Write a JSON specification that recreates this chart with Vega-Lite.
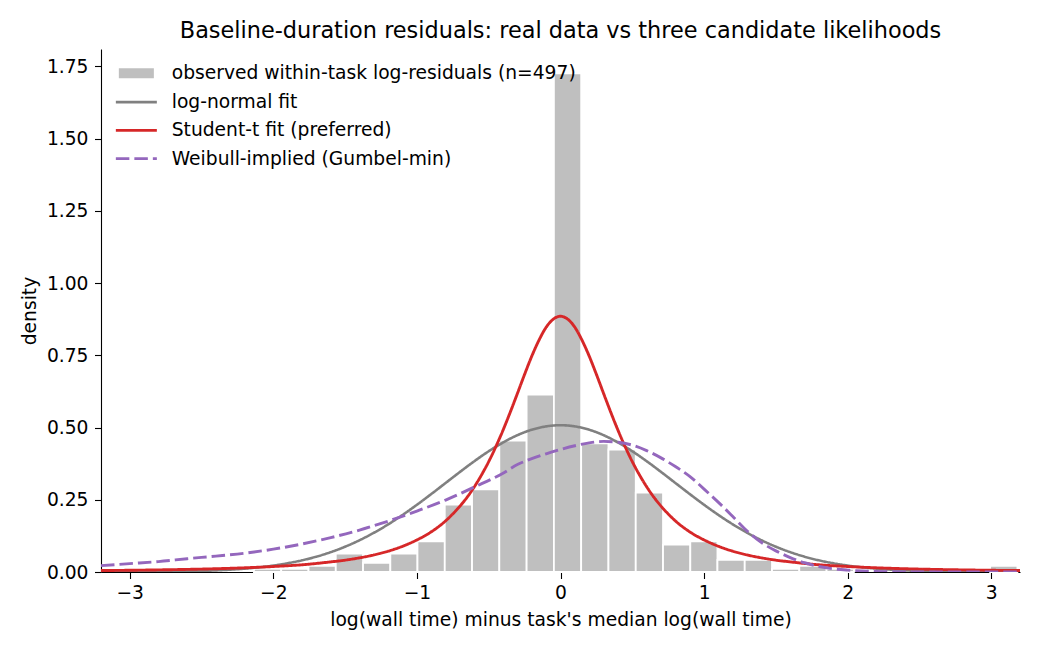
{
  "$schema": "https://vega.github.io/schema/vega-lite/v6.json",
  "autosize": {"type": "none"},
  "padding": {"left": 101, "top": 49, "right": 20, "bottom": 78},
  "width": 919,
  "height": 523,
  "title": {
    "text": "Baseline-duration residuals: real data vs three candidate likelihoods",
    "font": "DejaVu Sans",
    "fontSize": 22.4,
    "fontWeight": "normal",
    "color": "black",
    "anchor": "middle",
    "baseline": "alphabetic",
    "offset": 0,
    "dy": 11.5
  },
  "config": {
    "font": "DejaVu Sans",
    "view": {"stroke": null},
    "axis": {
      "grid": false,
      "domainColor": "black",
      "domainWidth": 1.1,
      "tickColor": "black",
      "tickWidth": 1.1,
      "tickSize": 6.5,
      "labelFont": "DejaVu Sans",
      "labelFontSize": 18.7,
      "labelColor": "black",
      "titleFont": "DejaVu Sans",
      "titleFontSize": 18.7,
      "titleFontWeight": "normal",
      "titleColor": "black"
    },
    "legend": {
      "title": null,
      "orient": "none",
      "legendX": 5.5,
      "padding": 0,
      "symbolSize": 16,
      "symbolOffset": 0,
      "labelFont": "DejaVu Sans",
      "labelFontSize": 18.7,
      "labelColor": "black",
      "labelLimit": 0,
      "labelOffset": 46.5,
      "rowPadding": 8.3
    }
  },
  "datasets": {
    "hist": [
      {"x0": -2.135, "x1": -1.945, "density": 0.011},
      {"x0": -1.945, "x1": -1.755, "density": 0.011},
      {"x0": -1.755, "x1": -1.565, "density": 0.021},
      {"x0": -1.565, "x1": -1.375, "density": 0.064},
      {"x0": -1.375, "x1": -1.185, "density": 0.032},
      {"x0": -1.185, "x1": -0.996, "density": 0.064},
      {"x0": -0.996, "x1": -0.806, "density": 0.106},
      {"x0": -0.806, "x1": -0.616, "density": 0.233},
      {"x0": -0.616, "x1": -0.426, "density": 0.286},
      {"x0": -0.426, "x1": -0.236, "density": 0.455},
      {"x0": -0.236, "x1": -0.046, "density": 0.614},
      {"x0": -0.046, "x1": 0.144, "density": 1.726},
      {"x0": 0.144, "x1": 0.334, "density": 0.445},
      {"x0": 0.334, "x1": 0.524, "density": 0.424},
      {"x0": 0.524, "x1": 0.714, "density": 0.275},
      {"x0": 0.714, "x1": 0.904, "density": 0.095},
      {"x0": 0.904, "x1": 1.093, "density": 0.106},
      {"x0": 1.093, "x1": 1.283, "density": 0.042},
      {"x0": 1.283, "x1": 1.473, "density": 0.042},
      {"x0": 1.473, "x1": 1.663, "density": 0.011},
      {"x0": 1.663, "x1": 1.853, "density": 0.021},
      {"x0": 1.853, "x1": 2.043, "density": 0.011},
      {"x0": 2.992, "x1": 3.182, "density": 0.021}
    ],
    "curves": [
      {"series": "log-normal fit", "x": -3.2, "y": 0.0002},
      {"series": "log-normal fit", "x": -3.0, "y": 0.0005},
      {"series": "log-normal fit", "x": -2.8, "y": 0.0011},
      {"series": "log-normal fit", "x": -2.6, "y": 0.0026},
      {"series": "log-normal fit", "x": -2.4, "y": 0.0056},
      {"series": "log-normal fit", "x": -2.2, "y": 0.0116},
      {"series": "log-normal fit", "x": -2.0, "y": 0.0223},
      {"series": "log-normal fit", "x": -1.9, "y": 0.0303},
      {"series": "log-normal fit", "x": -1.8, "y": 0.0404},
      {"series": "log-normal fit", "x": -1.7, "y": 0.0531},
      {"series": "log-normal fit", "x": -1.6, "y": 0.0688},
      {"series": "log-normal fit", "x": -1.5, "y": 0.0876},
      {"series": "log-normal fit", "x": -1.4, "y": 0.1099},
      {"series": "log-normal fit", "x": -1.3, "y": 0.1357},
      {"series": "log-normal fit", "x": -1.2, "y": 0.1649},
      {"series": "log-normal fit", "x": -1.1, "y": 0.1974},
      {"series": "log-normal fit", "x": -1.0, "y": 0.2326},
      {"series": "log-normal fit", "x": -0.9, "y": 0.2698},
      {"series": "log-normal fit", "x": -0.8, "y": 0.3081},
      {"series": "log-normal fit", "x": -0.7, "y": 0.3464},
      {"series": "log-normal fit", "x": -0.6, "y": 0.3835},
      {"series": "log-normal fit", "x": -0.5, "y": 0.4179},
      {"series": "log-normal fit", "x": -0.4, "y": 0.4483},
      {"series": "log-normal fit", "x": -0.3, "y": 0.4735},
      {"series": "log-normal fit", "x": -0.2, "y": 0.4924},
      {"series": "log-normal fit", "x": -0.1, "y": 0.504},
      {"series": "log-normal fit", "x": 0.0, "y": 0.508},
      {"series": "log-normal fit", "x": 0.1, "y": 0.504},
      {"series": "log-normal fit", "x": 0.2, "y": 0.4924},
      {"series": "log-normal fit", "x": 0.3, "y": 0.4735},
      {"series": "log-normal fit", "x": 0.4, "y": 0.4483},
      {"series": "log-normal fit", "x": 0.5, "y": 0.4179},
      {"series": "log-normal fit", "x": 0.6, "y": 0.3835},
      {"series": "log-normal fit", "x": 0.7, "y": 0.3464},
      {"series": "log-normal fit", "x": 0.8, "y": 0.3081},
      {"series": "log-normal fit", "x": 0.9, "y": 0.2698},
      {"series": "log-normal fit", "x": 1.0, "y": 0.2326},
      {"series": "log-normal fit", "x": 1.1, "y": 0.1974},
      {"series": "log-normal fit", "x": 1.2, "y": 0.1649},
      {"series": "log-normal fit", "x": 1.3, "y": 0.1357},
      {"series": "log-normal fit", "x": 1.4, "y": 0.1099},
      {"series": "log-normal fit", "x": 1.5, "y": 0.0876},
      {"series": "log-normal fit", "x": 1.6, "y": 0.0688},
      {"series": "log-normal fit", "x": 1.7, "y": 0.0531},
      {"series": "log-normal fit", "x": 1.8, "y": 0.0404},
      {"series": "log-normal fit", "x": 1.9, "y": 0.0303},
      {"series": "log-normal fit", "x": 2.0, "y": 0.0223},
      {"series": "log-normal fit", "x": 2.2, "y": 0.0116},
      {"series": "log-normal fit", "x": 2.4, "y": 0.0056},
      {"series": "log-normal fit", "x": 2.6, "y": 0.0026},
      {"series": "log-normal fit", "x": 2.8, "y": 0.0011},
      {"series": "log-normal fit", "x": 3.0, "y": 0.0005},
      {"series": "log-normal fit", "x": 3.2, "y": 0.0002},

      {"series": "Student-t fit (preferred)", "x": -3.2, "y": 0.005},
      {"series": "Student-t fit (preferred)", "x": -3.0, "y": 0.006},
      {"series": "Student-t fit (preferred)", "x": -2.8, "y": 0.0073},
      {"series": "Student-t fit (preferred)", "x": -2.6, "y": 0.009},
      {"series": "Student-t fit (preferred)", "x": -2.4, "y": 0.0113},
      {"series": "Student-t fit (preferred)", "x": -2.2, "y": 0.0145},
      {"series": "Student-t fit (preferred)", "x": -2.0, "y": 0.019},
      {"series": "Student-t fit (preferred)", "x": -1.8, "y": 0.025},
      {"series": "Student-t fit (preferred)", "x": -1.6, "y": 0.035},
      {"series": "Student-t fit (preferred)", "x": -1.5, "y": 0.041},
      {"series": "Student-t fit (preferred)", "x": -1.4, "y": 0.049},
      {"series": "Student-t fit (preferred)", "x": -1.3, "y": 0.059},
      {"series": "Student-t fit (preferred)", "x": -1.2, "y": 0.072},
      {"series": "Student-t fit (preferred)", "x": -1.1, "y": 0.089},
      {"series": "Student-t fit (preferred)", "x": -1.0, "y": 0.111},
      {"series": "Student-t fit (preferred)", "x": -0.9, "y": 0.139},
      {"series": "Student-t fit (preferred)", "x": -0.8, "y": 0.177},
      {"series": "Student-t fit (preferred)", "x": -0.75, "y": 0.201},
      {"series": "Student-t fit (preferred)", "x": -0.7, "y": 0.228},
      {"series": "Student-t fit (preferred)", "x": -0.65, "y": 0.259},
      {"series": "Student-t fit (preferred)", "x": -0.6, "y": 0.295},
      {"series": "Student-t fit (preferred)", "x": -0.55, "y": 0.336},
      {"series": "Student-t fit (preferred)", "x": -0.5, "y": 0.382},
      {"series": "Student-t fit (preferred)", "x": -0.45, "y": 0.434},
      {"series": "Student-t fit (preferred)", "x": -0.4, "y": 0.491},
      {"series": "Student-t fit (preferred)", "x": -0.35, "y": 0.553},
      {"series": "Student-t fit (preferred)", "x": -0.3, "y": 0.618},
      {"series": "Student-t fit (preferred)", "x": -0.25, "y": 0.684},
      {"series": "Student-t fit (preferred)", "x": -0.2, "y": 0.747},
      {"series": "Student-t fit (preferred)", "x": -0.15, "y": 0.802},
      {"series": "Student-t fit (preferred)", "x": -0.1, "y": 0.847},
      {"series": "Student-t fit (preferred)", "x": -0.05, "y": 0.875},
      {"series": "Student-t fit (preferred)", "x": 0.0, "y": 0.885},
      {"series": "Student-t fit (preferred)", "x": 0.05, "y": 0.875},
      {"series": "Student-t fit (preferred)", "x": 0.1, "y": 0.847},
      {"series": "Student-t fit (preferred)", "x": 0.15, "y": 0.802},
      {"series": "Student-t fit (preferred)", "x": 0.2, "y": 0.747},
      {"series": "Student-t fit (preferred)", "x": 0.25, "y": 0.684},
      {"series": "Student-t fit (preferred)", "x": 0.3, "y": 0.618},
      {"series": "Student-t fit (preferred)", "x": 0.35, "y": 0.553},
      {"series": "Student-t fit (preferred)", "x": 0.4, "y": 0.491},
      {"series": "Student-t fit (preferred)", "x": 0.45, "y": 0.434},
      {"series": "Student-t fit (preferred)", "x": 0.5, "y": 0.382},
      {"series": "Student-t fit (preferred)", "x": 0.55, "y": 0.336},
      {"series": "Student-t fit (preferred)", "x": 0.6, "y": 0.295},
      {"series": "Student-t fit (preferred)", "x": 0.65, "y": 0.259},
      {"series": "Student-t fit (preferred)", "x": 0.7, "y": 0.228},
      {"series": "Student-t fit (preferred)", "x": 0.75, "y": 0.201},
      {"series": "Student-t fit (preferred)", "x": 0.8, "y": 0.177},
      {"series": "Student-t fit (preferred)", "x": 0.9, "y": 0.139},
      {"series": "Student-t fit (preferred)", "x": 1.0, "y": 0.111},
      {"series": "Student-t fit (preferred)", "x": 1.1, "y": 0.089},
      {"series": "Student-t fit (preferred)", "x": 1.2, "y": 0.072},
      {"series": "Student-t fit (preferred)", "x": 1.3, "y": 0.059},
      {"series": "Student-t fit (preferred)", "x": 1.4, "y": 0.049},
      {"series": "Student-t fit (preferred)", "x": 1.5, "y": 0.041},
      {"series": "Student-t fit (preferred)", "x": 1.6, "y": 0.035},
      {"series": "Student-t fit (preferred)", "x": 1.8, "y": 0.025},
      {"series": "Student-t fit (preferred)", "x": 2.0, "y": 0.019},
      {"series": "Student-t fit (preferred)", "x": 2.2, "y": 0.0145},
      {"series": "Student-t fit (preferred)", "x": 2.4, "y": 0.0113},
      {"series": "Student-t fit (preferred)", "x": 2.6, "y": 0.009},
      {"series": "Student-t fit (preferred)", "x": 2.8, "y": 0.0073},
      {"series": "Student-t fit (preferred)", "x": 3.0, "y": 0.006},
      {"series": "Student-t fit (preferred)", "x": 3.2, "y": 0.005},

      {"series": "Weibull-implied (Gumbel-min)", "x": -3.2, "y": 0.022},
      {"series": "Weibull-implied (Gumbel-min)", "x": -3.0, "y": 0.029},
      {"series": "Weibull-implied (Gumbel-min)", "x": -2.8, "y": 0.036},
      {"series": "Weibull-implied (Gumbel-min)", "x": -2.6, "y": 0.046},
      {"series": "Weibull-implied (Gumbel-min)", "x": -2.4, "y": 0.055},
      {"series": "Weibull-implied (Gumbel-min)", "x": -2.2, "y": 0.065},
      {"series": "Weibull-implied (Gumbel-min)", "x": -2.0, "y": 0.079},
      {"series": "Weibull-implied (Gumbel-min)", "x": -1.8, "y": 0.097},
      {"series": "Weibull-implied (Gumbel-min)", "x": -1.6, "y": 0.119},
      {"series": "Weibull-implied (Gumbel-min)", "x": -1.4, "y": 0.145},
      {"series": "Weibull-implied (Gumbel-min)", "x": -1.2, "y": 0.176},
      {"series": "Weibull-implied (Gumbel-min)", "x": -1.0, "y": 0.211},
      {"series": "Weibull-implied (Gumbel-min)", "x": -0.8, "y": 0.249},
      {"series": "Weibull-implied (Gumbel-min)", "x": -0.6, "y": 0.294},
      {"series": "Weibull-implied (Gumbel-min)", "x": -0.4, "y": 0.342},
      {"series": "Weibull-implied (Gumbel-min)", "x": -0.3, "y": 0.372},
      {"series": "Weibull-implied (Gumbel-min)", "x": -0.2, "y": 0.392},
      {"series": "Weibull-implied (Gumbel-min)", "x": -0.1, "y": 0.409},
      {"series": "Weibull-implied (Gumbel-min)", "x": 0.0, "y": 0.424},
      {"series": "Weibull-implied (Gumbel-min)", "x": 0.1, "y": 0.437},
      {"series": "Weibull-implied (Gumbel-min)", "x": 0.2, "y": 0.447},
      {"series": "Weibull-implied (Gumbel-min)", "x": 0.3, "y": 0.452},
      {"series": "Weibull-implied (Gumbel-min)", "x": 0.4, "y": 0.449},
      {"series": "Weibull-implied (Gumbel-min)", "x": 0.5, "y": 0.439},
      {"series": "Weibull-implied (Gumbel-min)", "x": 0.6, "y": 0.42},
      {"series": "Weibull-implied (Gumbel-min)", "x": 0.7, "y": 0.395},
      {"series": "Weibull-implied (Gumbel-min)", "x": 0.8, "y": 0.365},
      {"series": "Weibull-implied (Gumbel-min)", "x": 0.9, "y": 0.331},
      {"series": "Weibull-implied (Gumbel-min)", "x": 1.0, "y": 0.287},
      {"series": "Weibull-implied (Gumbel-min)", "x": 1.1, "y": 0.241},
      {"series": "Weibull-implied (Gumbel-min)", "x": 1.2, "y": 0.192},
      {"series": "Weibull-implied (Gumbel-min)", "x": 1.3, "y": 0.142},
      {"series": "Weibull-implied (Gumbel-min)", "x": 1.4, "y": 0.102},
      {"series": "Weibull-implied (Gumbel-min)", "x": 1.5, "y": 0.073},
      {"series": "Weibull-implied (Gumbel-min)", "x": 1.6, "y": 0.05},
      {"series": "Weibull-implied (Gumbel-min)", "x": 1.7, "y": 0.032},
      {"series": "Weibull-implied (Gumbel-min)", "x": 1.8, "y": 0.019},
      {"series": "Weibull-implied (Gumbel-min)", "x": 1.9, "y": 0.011},
      {"series": "Weibull-implied (Gumbel-min)", "x": 2.0, "y": 0.0065},
      {"series": "Weibull-implied (Gumbel-min)", "x": 2.1, "y": 0.0035},
      {"series": "Weibull-implied (Gumbel-min)", "x": 2.2, "y": 0.0018},
      {"series": "Weibull-implied (Gumbel-min)", "x": 2.4, "y": 0.0004},
      {"series": "Weibull-implied (Gumbel-min)", "x": 2.6, "y": 0.0001},
      {"series": "Weibull-implied (Gumbel-min)", "x": 3.2, "y": 0.0}
    ]
  },
  "encoding": {
    "x": {
      "type": "quantitative",
      "scale": {"domain": [-3.2, 3.2], "nice": false, "zero": false},
      "axis": {
        "title": "log(wall time) minus task's median log(wall time)",
        "values": [-3, -2, -1, 0, 1, 2, 3],
        "format": "d",
        "labelPadding": 5,
        "titlePadding": 8.5
      }
    },
    "y": {
      "type": "quantitative",
      "scale": {"domain": [0, 1.81], "nice": false},
      "axis": {
        "title": "density",
        "values": [0, 0.25, 0.5, 0.75, 1, 1.25, 1.5, 1.75],
        "format": ".2f",
        "labelPadding": 6.5,
        "titlePadding": 7
      }
    }
  },
  "layer": [
    {
      "data": {"name": "hist"},
      "mark": {"type": "rect", "stroke": "white", "strokeWidth": 1.8},
      "encoding": {
        "x": {"field": "x0", "type": "quantitative"},
        "x2": {"field": "x1"},
        "y": {"field": "density", "type": "quantitative"},
        "y2": {"datum": 0},
        "fill": {
          "datum": "observed within-task log-residuals (n=497)",
          "type": "nominal",
          "title": null,
          "scale": {
            "domain": ["observed within-task log-residuals (n=497)"],
            "range": ["#bfbfbf"]
          },
          "legend": {
            "title": null,
            "legendY": 15,
            "symbolType": "M1.5,-2.5H19V2.5H1.5Z",
            "symbolStrokeWidth": 0,
            "symbolOpacity": 1
          }
        }
      }
    },
    {
      "data": {"name": "curves"},
      "transform": [{"filter": "datum.series === 'log-normal fit'"}],
      "mark": {"type": "line", "strokeWidth": 2.6, "interpolate": "monotone", "clip": true},
      "encoding": {
        "x": {"field": "x", "type": "quantitative"},
        "y": {"field": "y", "type": "quantitative"},
        "stroke": {
          "field": "series",
          "type": "nominal",
          "title": null,
          "scale": {
            "domain": ["log-normal fit", "Student-t fit (preferred)", "Weibull-implied (Gumbel-min)"],
            "range": ["#808080", "#d62728", "#9467bd"]
          },
          "legend": {
            "title": null,
            "legendY": 43.7,
            "symbolType": "M0,0H20.5",
            "symbolStrokeWidth": 2.8,
            "symbolFillColor": "transparent",
            "symbolOpacity": 1
          }
        },
        "strokeDash": {
          "field": "series",
          "type": "nominal",
          "title": null,
          "scale": {
            "domain": ["log-normal fit", "Student-t fit (preferred)", "Weibull-implied (Gumbel-min)"],
            "range": [[1, 0], [1, 0], [13.5, 5]]
          },
          "legend": {
            "title": null,
            "legendY": 43.7,
            "symbolType": "M0,0H20.5",
            "symbolStrokeWidth": 2.8,
            "symbolFillColor": "transparent",
            "symbolOpacity": 1
          }
        }
      }
    },
    {
      "data": {"name": "curves"},
      "transform": [{"filter": "datum.series === 'Student-t fit (preferred)'"}],
      "mark": {"type": "line", "strokeWidth": 2.9, "interpolate": "monotone", "clip": true},
      "encoding": {
        "x": {"field": "x", "type": "quantitative"},
        "y": {"field": "y", "type": "quantitative"},
        "stroke": {"field": "series", "type": "nominal", "title": null},
        "strokeDash": {"field": "series", "type": "nominal", "title": null}
      }
    },
    {
      "data": {"name": "curves"},
      "transform": [{"filter": "datum.series === 'Weibull-implied (Gumbel-min)'"}],
      "mark": {"type": "line", "strokeWidth": 2.9, "interpolate": "monotone", "clip": true},
      "encoding": {
        "x": {"field": "x", "type": "quantitative"},
        "y": {"field": "y", "type": "quantitative"},
        "stroke": {"field": "series", "type": "nominal", "title": null},
        "strokeDash": {"field": "series", "type": "nominal", "title": null}
      }
    }
  ]
}
